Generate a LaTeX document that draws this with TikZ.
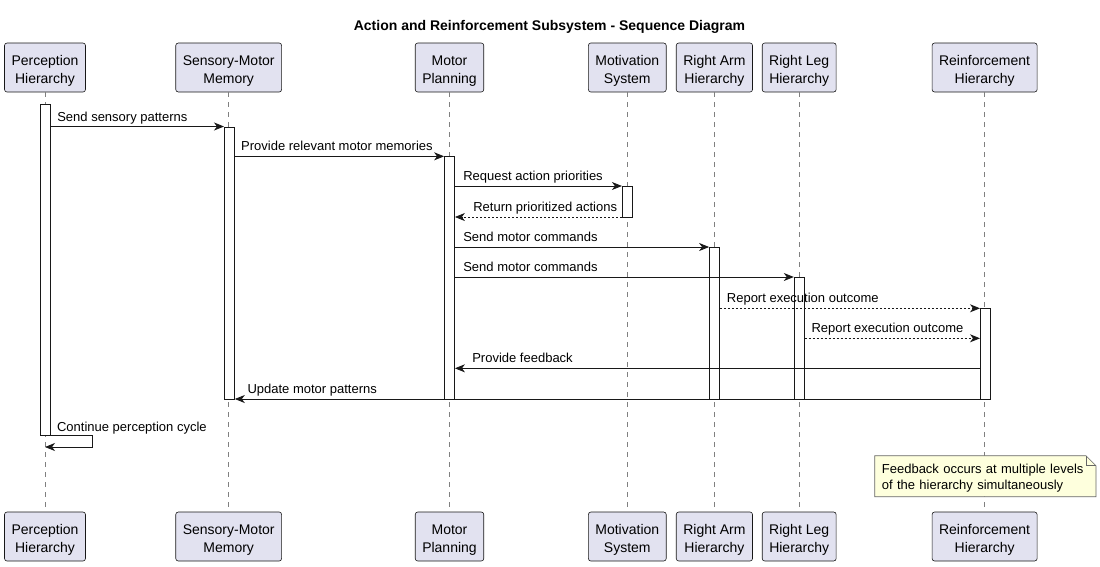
\documentclass[tikz,border=0pt]{standalone}
\usepackage{fontspec}
\setmainfont{Liberation Sans}
\usetikzlibrary{arrows.meta}

\definecolor{partfill}{HTML}{E2E2F0}
\definecolor{notefill}{HTML}{FEFFDD}
\definecolor{edgegray}{HTML}{181818}

\tikzset{
  participant/.style={draw=edgegray, fill=partfill, rounded corners=2.5pt, line width=0.6pt,
    align=center, minimum height=49pt, inner xsep=7pt, inner ysep=0pt,
    text height=34pt, text depth=3pt,
    font=\fontsize{14pt}{18pt}\selectfont},
  lifeline/.style={draw=gray, line width=0.5pt, dash pattern=on 5pt off 5pt},
  actbar/.style={draw=edgegray, fill=white, line width=0.8pt, minimum width=10pt, inner sep=0pt, anchor=north},
  msg/.style={draw=edgegray, line width=0.8pt, -{Stealth[length=10pt,width=8pt,inset=3pt]}},
  reply/.style={msg, dash pattern=on 2pt off 2pt},
  msglabel/.style={font=\fontsize{13pt}{16pt}\selectfont, anchor=base west, inner sep=0pt, yshift=5.5pt},
  notebox/.style={draw=gray!80!black, fill=notefill, line width=0.6pt},
  notetext/.style={font=\fontsize{13pt}{16pt}\selectfont, align=left, text width=207pt, inner xsep=7pt, inner ysep=0pt},
}

\begin{document}
\begin{tikzpicture}[x=1pt, y=-1pt]
\useasboundingbox (0,0) rectangle (1100,566);

% title
\node[font=\bfseries\fontsize{14pt}{17pt}\selectfont, anchor=base] (title) at (549.5,30.5) {Action and Reinforcement Subsystem - Sequence Diagram};

% participants (top)
\node[participant] (tPer) at (45,67.5) {Perception\\Hierarchy};
\node[participant] (tSen) at (228.7,67.5) {Sensory-Motor\\Memory};
\node[participant] (tMot) at (449.5,67.5) {Motor\\Planning};
\node[participant] (tMtv) at (627.3,67.5) {Motivation\\System};
\node[participant] (tArm) at (714.4,67.5) {Right Arm\\Hierarchy};
\node[participant] (tLeg) at (799.2,67.5) {Right Leg\\Hierarchy};
\node[participant] (tRei) at (984.6,67.5) {Reinforcement\\Hierarchy};

% participants (bottom)
\node[participant] (bPer) at (45,536.5) {Perception\\Hierarchy};
\node[participant] (bSen) at (228.7,536.5) {Sensory-Motor\\Memory};
\node[participant] (bMot) at (449.5,536.5) {Motor\\Planning};
\node[participant] (bMtv) at (627.3,536.5) {Motivation\\System};
\node[participant] (bArm) at (714.4,536.5) {Right Arm\\Hierarchy};
\node[participant] (bLeg) at (799.2,536.5) {Right Leg\\Hierarchy};
\node[participant] (bRei) at (984.6,536.5) {Reinforcement\\Hierarchy};

% lifelines
\draw[lifeline] (tPer) -- (bPer);
\draw[lifeline] (tSen) -- (bSen);
\draw[lifeline] (tMot) -- (bMot);
\draw[lifeline] (tMtv) -- (bMtv);
\draw[lifeline] (tArm) -- (bArm);
\draw[lifeline] (tLeg) -- (bLeg);
\draw[lifeline] (tRei) -- (bRei);

% activation bars
\node[actbar, minimum height=331pt] (aPer) at (45,104) {};
\node[actbar, minimum height=272.5pt] (aSen) at (229.4,126.5) {};
\node[actbar, minimum height=242.7pt] (aMot) at (449.5,156.3) {};
\node[actbar, minimum height=31pt] (aMtv) at (627.3,186) {};
\node[actbar, minimum height=152pt] (aArm) at (714.5,247) {};
\node[actbar, minimum height=122pt] (aLeg) at (799.2,277) {};
\node[actbar, minimum height=91pt] (aRei) at (985.4,308) {};

% messages
\draw[msg] (aPer.east |- 0,126.5) -- node[msglabel, pos=0, xshift=6.5pt] {Send sensory patterns} (aSen.west |- 0,126.5);
\draw[msg] (aSen.east |- 0,156.3) -- node[msglabel, pos=0, xshift=6pt] {Provide relevant motor memories} (aMot.west |- 0,156.3);
\draw[msg] (aMot.east |- 0,186) -- node[msglabel, pos=0, xshift=8pt] {Request action priorities} (aMtv.west |- 0,186);
\draw[reply] (aMtv.west |- 0,217) -- node[msglabel, pos=1, xshift=18pt] {Return prioritized actions} (aMot.east |- 0,217);
\draw[msg] (aMot.east |- 0,247) -- node[msglabel, pos=0, xshift=8pt] {Send motor commands} (aArm.west |- 0,247);
\draw[msg] (aMot.east |- 0,277) -- node[msglabel, pos=0, xshift=8pt] {Send motor commands} (aLeg.west |- 0,277);
\draw[reply] (aArm.east |- 0,308.3) -- node[msglabel, pos=0, xshift=6.6pt] {Report execution outcome} (aRei.west |- 0,308.3);
\draw[reply] (aLeg.east |- 0,338.3) -- node[msglabel, pos=0, xshift=6.6pt] {Report execution outcome} (aRei.west |- 0,338.3);
\draw[msg] (aRei.west |- 0,368.3) -- node[msglabel, pos=1, xshift=17pt] {Provide feedback} (aMot.east |- 0,368.3);
\draw[msg] (aRei.west |- 0,399) -- node[msglabel, pos=1, xshift=12.3pt] {Update motor patterns} (aSen.east |- 0,399);

% self message
\coordinate (selfTurn) at (92,447);
\draw[msg] (aPer.south east) -| (selfTurn) -- (aPer.south |- selfTurn);
\node[msglabel, xshift=6.5pt, yshift=-1.5pt] (selfLbl) at (aPer.south east) {Continue perception cycle};

% note
\coordinate (noteNW) at (874.7,455.7);
\coordinate (noteSE) at (1096,496.7);
\draw[notebox] (noteNW) -- ([xshift=-10pt]noteNW -| noteSE) -- ([yshift=-10pt]noteNW -| noteSE) -- (noteSE) -- (noteNW |- noteSE) -- cycle;
\draw[notebox, fill=none] ([xshift=-10pt]noteNW -| noteSE) |- ([yshift=-10pt]noteNW -| noteSE);
\node[notetext, anchor=north west] (fbNote) at ([yshift=-8pt]noteNW) {Feedback occurs at multiple levels\\of the hierarchy simultaneously};
\end{tikzpicture}
\end{document}
